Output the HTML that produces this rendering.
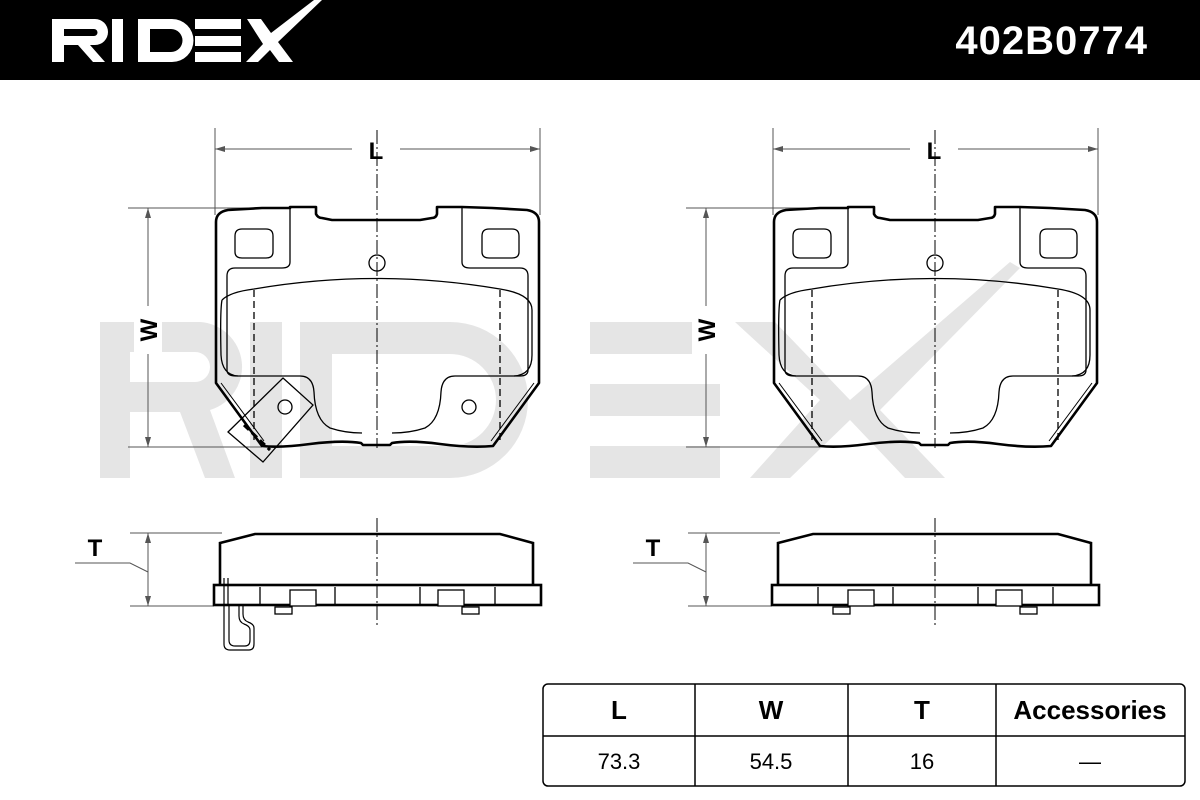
<!DOCTYPE html>
<html><head><meta charset="utf-8"><style>
html,body{margin:0;padding:0;background:#fff;}
svg{display:block;}
text{font-family:"Liberation Sans",sans-serif;}
</style></head><body>
<svg width="1200" height="800" viewBox="0 0 1200 800" xmlns="http://www.w3.org/2000/svg">
<rect x="0" y="0" width="1200" height="800" fill="#fff"/>
<!-- header -->
<rect x="0" y="0" width="1200" height="80" fill="#000"/>
<g fill="#fff">
  <path d="M52 19 H95 a13 13 0 0 1 0 26 H90 L105 62 H93 L78 45 H64 V62 H52 Z M64 29 V36 H94 a3.5 3.5 0 0 0 0 -7 Z"/>
  <rect x="112" y="19" width="11" height="43"/>
  <path d="M138 19 H172 a21 21 0 0 1 0 43 H138 Z M150 29 V52 H171 a11.5 11.5 0 0 0 0 -23 Z"/>
  <rect x="195" y="19" width="46" height="10"/>
  <rect x="195" y="36" width="46" height="10"/>
  <rect x="195" y="52" width="46" height="10"/>
  <path d="M247 19 H261 L271 33 L314 0 H322 L278 42 L293 62 H279 L270 50 L258 62 H246 L263 44 Z"/>
</g>
<text x="1148" y="54" text-anchor="end" font-size="40" font-weight="bold" letter-spacing="1" fill="#fff">402B0774</text>

<!-- watermark -->
<g fill="#e5e5e5">
  <path d="M100 322 H200 a45 45 0 0 1 10 88 L235 478 H205 L180 412 H130 V478 H100 Z M130 352 V382 H195 a15 15 0 0 0 0 -30 Z"/>
  <rect x="250" y="322" width="32" height="156"/>
  <path d="M300 322 H450 a78 78 0 0 1 0 156 H300 Z M332 354 V446 H450 a46 46 0 0 0 0 -92 Z"/>
  <rect x="590" y="322" width="130" height="32"/>
  <rect x="590" y="384" width="130" height="32"/>
  <rect x="590" y="446" width="130" height="32"/>
  <path d="M735 322 H775 L850 400 L1010 262 L1020 268 L880 410 L945 478 H905 L850 420 L790 478 H750 L820 400 Z"/>
</g>

<defs>
<g id="front">
  <path d="M216 222 Q216 212 228 210 L262 208 Q280 208 290 208 L290 207 H316 V214 Q318 218 322 218 L332 220 H420 L432 218 Q436 218 437 214 V207 H462 L492 208 L527 210 Q539 212 539 222 V383 L493 446 Q470 448 440 444 Q410 440 392 443 L390 445 H363 L361 443 Q342 440 310 444 Q280 448 262 446 L216 383 Z" fill="none" stroke="#000" stroke-width="2.6" stroke-linejoin="round"/>
  <path d="M221 383 L264 441 M534 383 L491 441" fill="none" stroke="#000" stroke-width="1"/>
  <path d="M242 229 H266 Q273 229 273 236 V252 Q273 258 266 258 H242 Q235 258 235 252 V236 Q235 229 242 229 Z" fill="none" stroke="#000" stroke-width="1.3"/>
  <path d="M489 229 H512 Q519 229 519 236 V252 Q519 258 512 258 H489 Q482 258 482 252 V236 Q482 229 489 229 Z" fill="none" stroke="#000" stroke-width="1.3"/>
  <circle cx="377" cy="263" r="8" fill="#fff" stroke="#000" stroke-width="1.3"/>
  <path d="M290 208 V262 Q290 268 282 268 H235 Q227 268 227 276 V370 Q227 376 236 376 H300 Q313 376 314 392 Q315 420 330 428 Q345 433 362 433 M462 208 V262 Q462 268 470 268 H520 Q528 268 528 276 V370 Q528 376 520 376 H455 Q442 376 441 392 Q440 420 425 428 Q410 433 392 433" fill="none" stroke="#000" stroke-width="1.3"/>
  <path d="M222 300 Q230 292 254 289 Q376 268 500 289 Q532 294 532 310 V355 Q532 375 514 376 M222 300 Q220 310 221 355 Q222 375 238 376" fill="none" stroke="#000" stroke-width="1.3"/>
  <path d="M254 290 V440 M500 290 V440" stroke="#000" stroke-width="1.3" stroke-dasharray="7,4"/>
  <path d="M377 130 V448" stroke="#000" stroke-width="1" stroke-dasharray="14,3,2,3"/>
</g>
<g id="side">
  <path d="M220 585 V543 L255 534 H500 L533 543 V585" fill="#fff" stroke="#000" stroke-width="2.6"/>
  <rect x="214" y="585" width="327" height="20" fill="#fff" stroke="#000" stroke-width="2.6"/>
  <path d="M260 587 V604 M335 587 V604 M420 587 V604 M495 587 V604" stroke="#000" stroke-width="1.3"/>
  <rect x="290" y="590" width="26" height="16" fill="#fff" stroke="#000" stroke-width="1.3"/>
  <rect x="438" y="590" width="26" height="16" fill="#fff" stroke="#000" stroke-width="1.3"/>
  <rect x="275" y="607" width="17" height="7" fill="#fff" stroke="#000" stroke-width="1.3"/>
  <rect x="462" y="607" width="17" height="7" fill="#fff" stroke="#000" stroke-width="1.3"/>
  <path d="M377 518 V628" stroke="#000" stroke-width="1" stroke-dasharray="14,3,2,3"/>
</g>
<g id="dims">
  <path d="M215 128 V215 M540 128 V215" stroke="#555" stroke-width="1"/>
  <path d="M215 149 H540" stroke="#555" stroke-width="1"/>
  <path d="M215 149 l10 -3 v6 Z M540 149 l-10 -3 v6 Z" fill="#555"/>
  <rect x="352" y="136" width="48" height="26" fill="#fff"/>
  <text x="376" y="159" text-anchor="middle" font-size="24" font-weight="bold">L</text>
  <path d="M128 208 H262 M128 447 H262" stroke="#555" stroke-width="1"/>
  <path d="M148 208 V447" stroke="#555" stroke-width="1"/>
  <path d="M148 208 l-3 10 h6 Z M148 447 l-3 -10 h6 Z" fill="#555"/>
  <rect x="134" y="306" width="28" height="48" fill="#fff"/>
  <text x="0" y="0" transform="translate(157 330) rotate(-90)" text-anchor="middle" font-size="24" font-weight="bold">W</text>
  <path d="M130 533 H222 M130 606 H214" stroke="#555" stroke-width="1"/>
  <path d="M148 533 V606" stroke="#555" stroke-width="1"/>
  <path d="M148 533 l-3 10 h6 Z M148 606 l-3 -10 h6 Z" fill="#555"/>
  <path d="M75 563 H130 L148 572" stroke="#555" stroke-width="1" fill="none"/>
  <text x="95" y="556" text-anchor="middle" font-size="24" font-weight="bold">T</text>
</g>
</defs>

<use href="#dims"/>
<use href="#front"/>
<use href="#side"/>
<g transform="translate(558 0)">
  <use href="#dims"/>
  <use href="#front"/>
  <use href="#side"/>
</g>
<circle cx="285" cy="407" r="7" fill="none" stroke="#000" stroke-width="1.3"/>
<circle cx="469" cy="407" r="7" fill="none" stroke="#000" stroke-width="1.3"/>
<path d="M228 432 L283 378 L313 405 L263 462 Z" fill="none" stroke="#000" stroke-width="1.3"/>
<path d="M244 425 L270 450" stroke="#000" stroke-width="3" stroke-dasharray="7,4"/>
<path d="M224 578 V644 Q224 650 230 650 H249 Q254 650 254 644 V628 Q254 624 248 622 Q243 620 243 614 V606 M228 578 V606 M229 606 V640 Q229 646 235 646 H245 Q250 646 250 640 V630 Q250 626 244 624 Q239 622 239 616 V606" fill="none" stroke="#000" stroke-width="1.2"/>

<!-- table -->
<rect x="543" y="684" width="642" height="102" rx="5" fill="#fff" stroke="#000" stroke-width="1.5"/>
<path d="M543 736 H1185 M695 684 V786 M848 684 V786 M996 684 V786" stroke="#000" stroke-width="1.5"/>
<g font-size="26" font-weight="bold" text-anchor="middle">
  <text x="619" y="719">L</text>
  <text x="771" y="719">W</text>
  <text x="922" y="719">T</text>
  <text x="1090" y="719">Accessories</text>
</g>
<g font-size="22" text-anchor="middle">
  <text x="619" y="769">73.3</text>
  <text x="771" y="769">54.5</text>
  <text x="922" y="769">16</text>
  <text x="1090" y="769">—</text>
</g>
</svg>
</body></html>
